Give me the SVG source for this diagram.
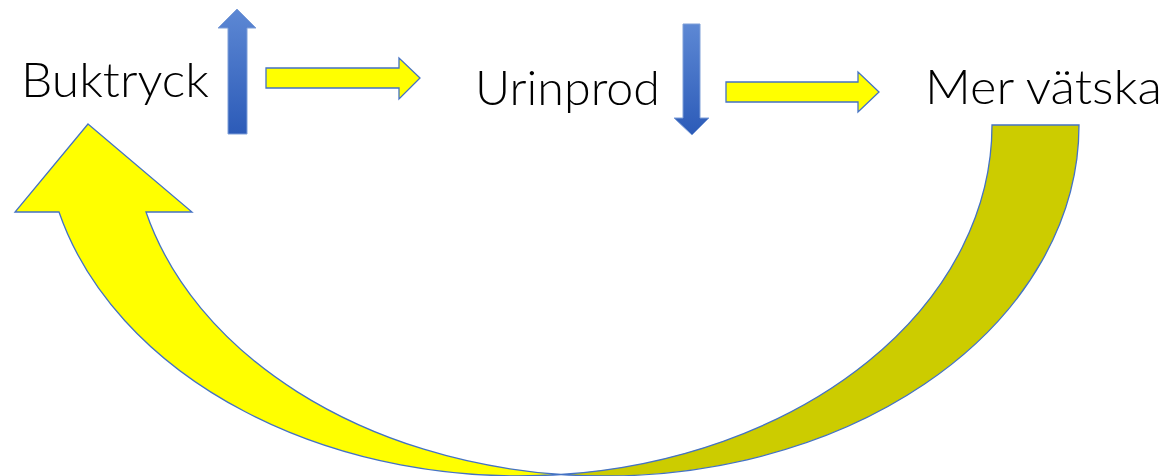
<svg xmlns="http://www.w3.org/2000/svg" width="1173" height="476" viewBox="0 0 1173 476">
  <defs>
    <linearGradient id="blueUp" x1="0" y1="0" x2="0" y2="1">
      <stop offset="0" stop-color="#5D88D4"/>
      <stop offset="1" stop-color="#2C5BB8"/>
    </linearGradient>
    <style>
      .label { font-family: Lato, "Open Sans", "Liberation Sans", sans-serif; font-weight: 300; font-size: 48px; fill: #000; }
      .yel { fill: #FFFF00; stroke: #4472C4; stroke-width: 1.3; stroke-linejoin: miter; }
      .yel-dark { fill: #CCCC00; stroke: #4472C4; stroke-width: 1.3; }
      .blue { fill: url(#blueUp); stroke: #7F9FD8; stroke-width: 1; }
    </style>
  </defs>

  <rect width="1173" height="476" fill="#FFFFFF"/>

  <!-- labels -->
  <g id="node-buktryck">
    <text class="label" x="21" y="97" textLength="188" lengthAdjust="spacingAndGlyphs">Buktryck</text>
  </g>
  <g id="node-urinprod">
    <text class="label" x="475" y="105" textLength="185" lengthAdjust="spacingAndGlyphs">Urinprod</text>
  </g>
  <g id="node-mer-vatska">
    <text class="label" x="925" y="104" textLength="237" lengthAdjust="spacingAndGlyphs">Mer vätska</text>
  </g>

  <!-- trend indicators -->
  <g id="trend-up">
    <path class="blue" d="M237,9 L256,28 L247,28 L247,134 L228,134 L228,28 L218,28 Z"/>
  </g>
  <g id="trend-down">
    <path class="blue" d="M683,24 L700,24 L700,118 L709,118 L692,135 L674,118 L683,118 Z"/>
  </g>

  <!-- connectors -->
  <g id="connectors">
    <path class="yel" d="M266,68 L399,68 L399,58 L420,78 L399,99 L399,88 L266,88 Z"/>
    <path class="yel" d="M726,82 L858,82 L858,72 L879,92 L858,112 L858,102 L726,102 Z"/>

    <!-- curved return arrow: two offset half-ellipses -->
    <path class="yel-dark" d="M992,125 A474.5,351 0 0 1 561,474.5 A474.5,351 0 0 0 1079,125 Z"/>
    <path class="yel" d="M88,124 L192,212 L146,212 A474.5,351 0 0 0 561,474.5 A474.5,351 0 0 1 59,212 L15,212 Z"/>
  </g>
</svg>
